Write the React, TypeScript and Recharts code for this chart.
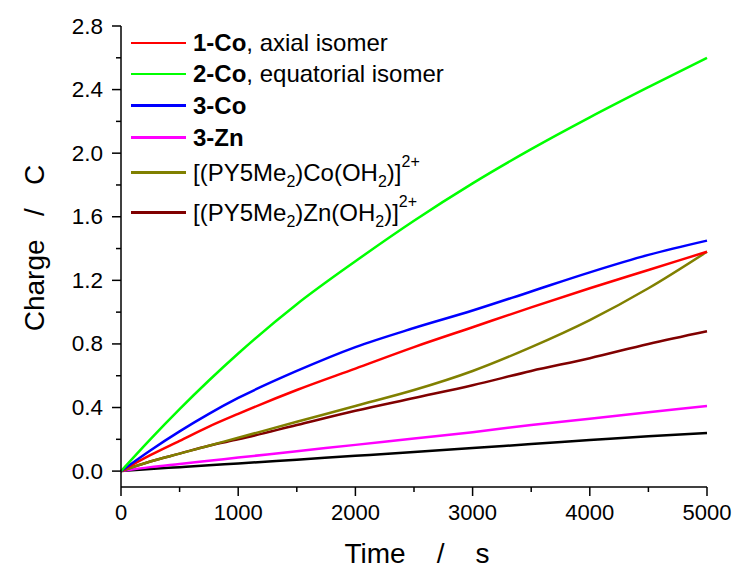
import { LineChart, Line, XAxis, YAxis, Legend } from 'recharts';

const FONT = '"Liberation Sans", Arial, sans-serif';

// time points (s)
const times = [0, 250, 500, 750, 1000, 1500, 2000, 2500, 3000, 3500, 4000, 4500, 5000];

// charge (C)
const co1Axial = [0, 0.1, 0.19, 0.28, 0.36, 0.51, 0.645, 0.78, 0.905, 1.03, 1.15, 1.265, 1.38];
const co2Equatorial = [0, 0.2, 0.39, 0.57, 0.74, 1.05, 1.32, 1.575, 1.81, 2.025, 2.225, 2.415, 2.6];
const co3 = [0, 0.13, 0.25, 0.36, 0.46, 0.63, 0.78, 0.9, 1.01, 1.13, 1.25, 1.36, 1.45];
const zn3 = [0, 0.025, 0.045, 0.065, 0.085, 0.125, 0.165, 0.205, 0.245, 0.29, 0.33, 0.37, 0.41];
const py5CoOH2 = [0, 0.06, 0.11, 0.16, 0.21, 0.31, 0.41, 0.51, 0.63, 0.78, 0.95, 1.15, 1.38];
const py5ZnOH2 = [0, 0.06, 0.11, 0.16, 0.2, 0.29, 0.38, 0.46, 0.54, 0.63, 0.71, 0.8, 0.88];
const blank = [0, 0.013, 0.025, 0.037, 0.048, 0.072, 0.096, 0.12, 0.145, 0.17, 0.195, 0.22, 0.24];

const xTicks = [0, 500, 1000, 1500, 2000, 2500, 3000, 3500, 4000, 4500, 5000];
const yTicks = [0, 0.2, 0.4, 0.6, 0.8, 1.0, 1.2, 1.4, 1.6, 1.8, 2.0, 2.2, 2.4, 2.6, 2.8];

const data = times.map((t, i) => ({
  t,
  co1: co1Axial[i],
  co2: co2Equatorial[i],
  co3: co3[i],
  zn3: zn3[i],
  pyCo: py5CoOH2[i],
  pyZn: py5ZnOH2[i],
  blank: blank[i],
}));

const sub = { fontSize: 16, verticalAlign: 'sub', lineHeight: 0 } as const;
const sup = { fontSize: 16, verticalAlign: 'super', lineHeight: 0, position: 'relative', top: -5 } as const;

const series = [
  { key: 'co1', color: '#FF0000', label: <><b>1-Co</b>, axial isomer</> },
  { key: 'co2', color: '#00FF00', label: <><b>2-Co</b>, equatorial isomer</> },
  { key: 'co3', color: '#0000FF', label: <b>3-Co</b> },
  { key: 'zn3', color: '#FF00FF', label: <b>3-Zn</b> },
  {
    key: 'pyCo', color: '#808000',
    label: <>[(PY5Me<span style={sub}>2</span>)Co(OH<span style={sub}>2</span>)]<span style={sup}>2+</span></>,
  },
  {
    key: 'pyZn', color: '#800000',
    label: <>[(PY5Me<span style={sub}>2</span>)Zn(OH<span style={sub}>2</span>)]<span style={sup}>2+</span></>,
  },
];

const rowHeights = [31, 31, 32, 32, 38, 42];

const isMajorX = (v: number) => v % 1000 === 0;
const isMajorY = (v: number) => Math.round(v * 10) % 4 === 0;

function BottomTick({ x, y, payload }: any) {
  const major = isMajorX(payload.value);
  return (
    <g>
      <line x1={x} x2={x} y1={y} y2={y + (major ? 9 : 5)} stroke="#000" strokeWidth={1.5} />
      {major && (
        <text x={x} y={y + 33} textAnchor="middle" fontSize={22} fontFamily={FONT} fill="#000">
          {payload.value}
        </text>
      )}
    </g>
  );
}

function TopTick({ x, y, payload }: any) {
  const major = isMajorX(payload.value);
  return <line x1={x} x2={x} y1={y} y2={y - (major ? 7 : 4)} stroke="#000" strokeWidth={1.5} />;
}

function LeftTick({ x, y, payload }: any) {
  const major = isMajorY(payload.value);
  return (
    <g>
      <line x1={x} x2={x - (major ? 9 : 5)} y1={y} y2={y} stroke="#000" strokeWidth={1.5} />
      {major && (
        <text x={x - 18} y={y} textAnchor="end" dominantBaseline="central" fontSize={22.5} fontFamily={FONT} fill="#000">
          {payload.value.toFixed(1)}
        </text>
      )}
    </g>
  );
}

function RightTick({ x, y, payload }: any) {
  const major = isMajorY(payload.value);
  return <line x1={x} x2={x + (major ? 7 : 4)} y1={y} y2={y} stroke="#000" strokeWidth={1.5} />;
}

function LegendBox() {
  return (
    <div style={{ fontFamily: FONT, fontSize: 24, color: '#000' }}>
      {series.map((s, i) => (
        <div key={s.key} style={{ height: rowHeights[i], display: 'flex', alignItems: 'center', whiteSpace: 'nowrap' }}>
          <span style={{ display: 'inline-block', width: 55, height: 2.5, background: s.color, marginRight: 7 }} />
          <span>{s.label}</span>
        </div>
      ))}
    </div>
  );
}

const axisLine = { stroke: '#000', strokeWidth: 1.5 };

export default function App() {
  return (
    <div style={{ position: 'absolute', left: 0, top: 0, width: 735, height: 572, background: '#fff' }}>
      <LineChart width={735} height={572} data={data} margin={{ top: 26, right: 28, bottom: 0, left: 0 }}>
        <XAxis
          xAxisId="b"
          dataKey="t"
          type="number"
          domain={[0, 5000]}
          ticks={xTicks}
          interval={0}
          height={85}
          tickSize={0}
          tickMargin={0}
          tickLine={false}
          axisLine={axisLine}
          tick={<BottomTick />}
          label={{
            content: () => (
              <text
                x={417}
                y={563}
                textAnchor="middle"
                fontSize={28}
                fontFamily={FONT}
                fill="#000"
                style={{ whiteSpace: 'pre' }}
              >
                {'Time    /    s'}
              </text>
            ),
          }}
        />
        <XAxis
          xAxisId="t"
          orientation="top"
          dataKey="t"
          type="number"
          domain={[0, 5000]}
          ticks={xTicks}
          interval={0}
          height={0}
          tickSize={0}
          tickMargin={0}
          tickLine={false}
          axisLine={axisLine}
          tick={<TopTick />}
        />
        <YAxis
          yAxisId="l"
          type="number"
          domain={[-0.1, 2.8]}
          ticks={yTicks}
          interval={0}
          width={121}
          tickSize={0}
          tickMargin={0}
          tickLine={false}
          axisLine={axisLine}
          tick={<LeftTick />}
          label={{
            content: () => (
              <text
                x={34}
                y={248}
                transform="rotate(-90, 34, 248)"
                textAnchor="middle"
                dominantBaseline="central"
                fontSize={28}
                fontFamily={FONT}
                fill="#000"
                style={{ whiteSpace: 'pre' }}
              >
                {'Charge   /   C'}
              </text>
            ),
          }}
        />
        <YAxis
          yAxisId="r"
          orientation="right"
          type="number"
          domain={[-0.1, 2.8]}
          ticks={yTicks}
          interval={0}
          width={0}
          tickSize={0}
          tickMargin={0}
          tickLine={false}
          axisLine={axisLine}
          tick={<RightTick />}
        />
        <Legend
          layout="vertical"
          align="center"
          verticalAlign="middle"
          content={() => <LegendBox />}
          wrapperStyle={{ position: 'absolute', left: 131, top: 27.5, width: 'auto', height: 'auto' }}
        />
        <Line xAxisId="b" yAxisId="l" type="monotone" dataKey="blank" stroke="#000000" strokeWidth={2.5} dot={false} isAnimationActive={false} legendType="none" />
        <Line xAxisId="b" yAxisId="l" type="monotone" dataKey="zn3" stroke="#FF00FF" strokeWidth={2.5} dot={false} isAnimationActive={false} />
        <Line xAxisId="b" yAxisId="l" type="monotone" dataKey="pyZn" stroke="#800000" strokeWidth={2.5} dot={false} isAnimationActive={false} />
        <Line xAxisId="b" yAxisId="l" type="monotone" dataKey="pyCo" stroke="#808000" strokeWidth={2.5} dot={false} isAnimationActive={false} />
        <Line xAxisId="b" yAxisId="l" type="monotone" dataKey="co1" stroke="#FF0000" strokeWidth={2.5} dot={false} isAnimationActive={false} />
        <Line xAxisId="b" yAxisId="l" type="monotone" dataKey="co3" stroke="#0000FF" strokeWidth={2.5} dot={false} isAnimationActive={false} />
        <Line xAxisId="b" yAxisId="l" type="monotone" dataKey="co2" stroke="#00FF00" strokeWidth={2.5} dot={false} isAnimationActive={false} />
      </LineChart>
    </div>
  );
}
